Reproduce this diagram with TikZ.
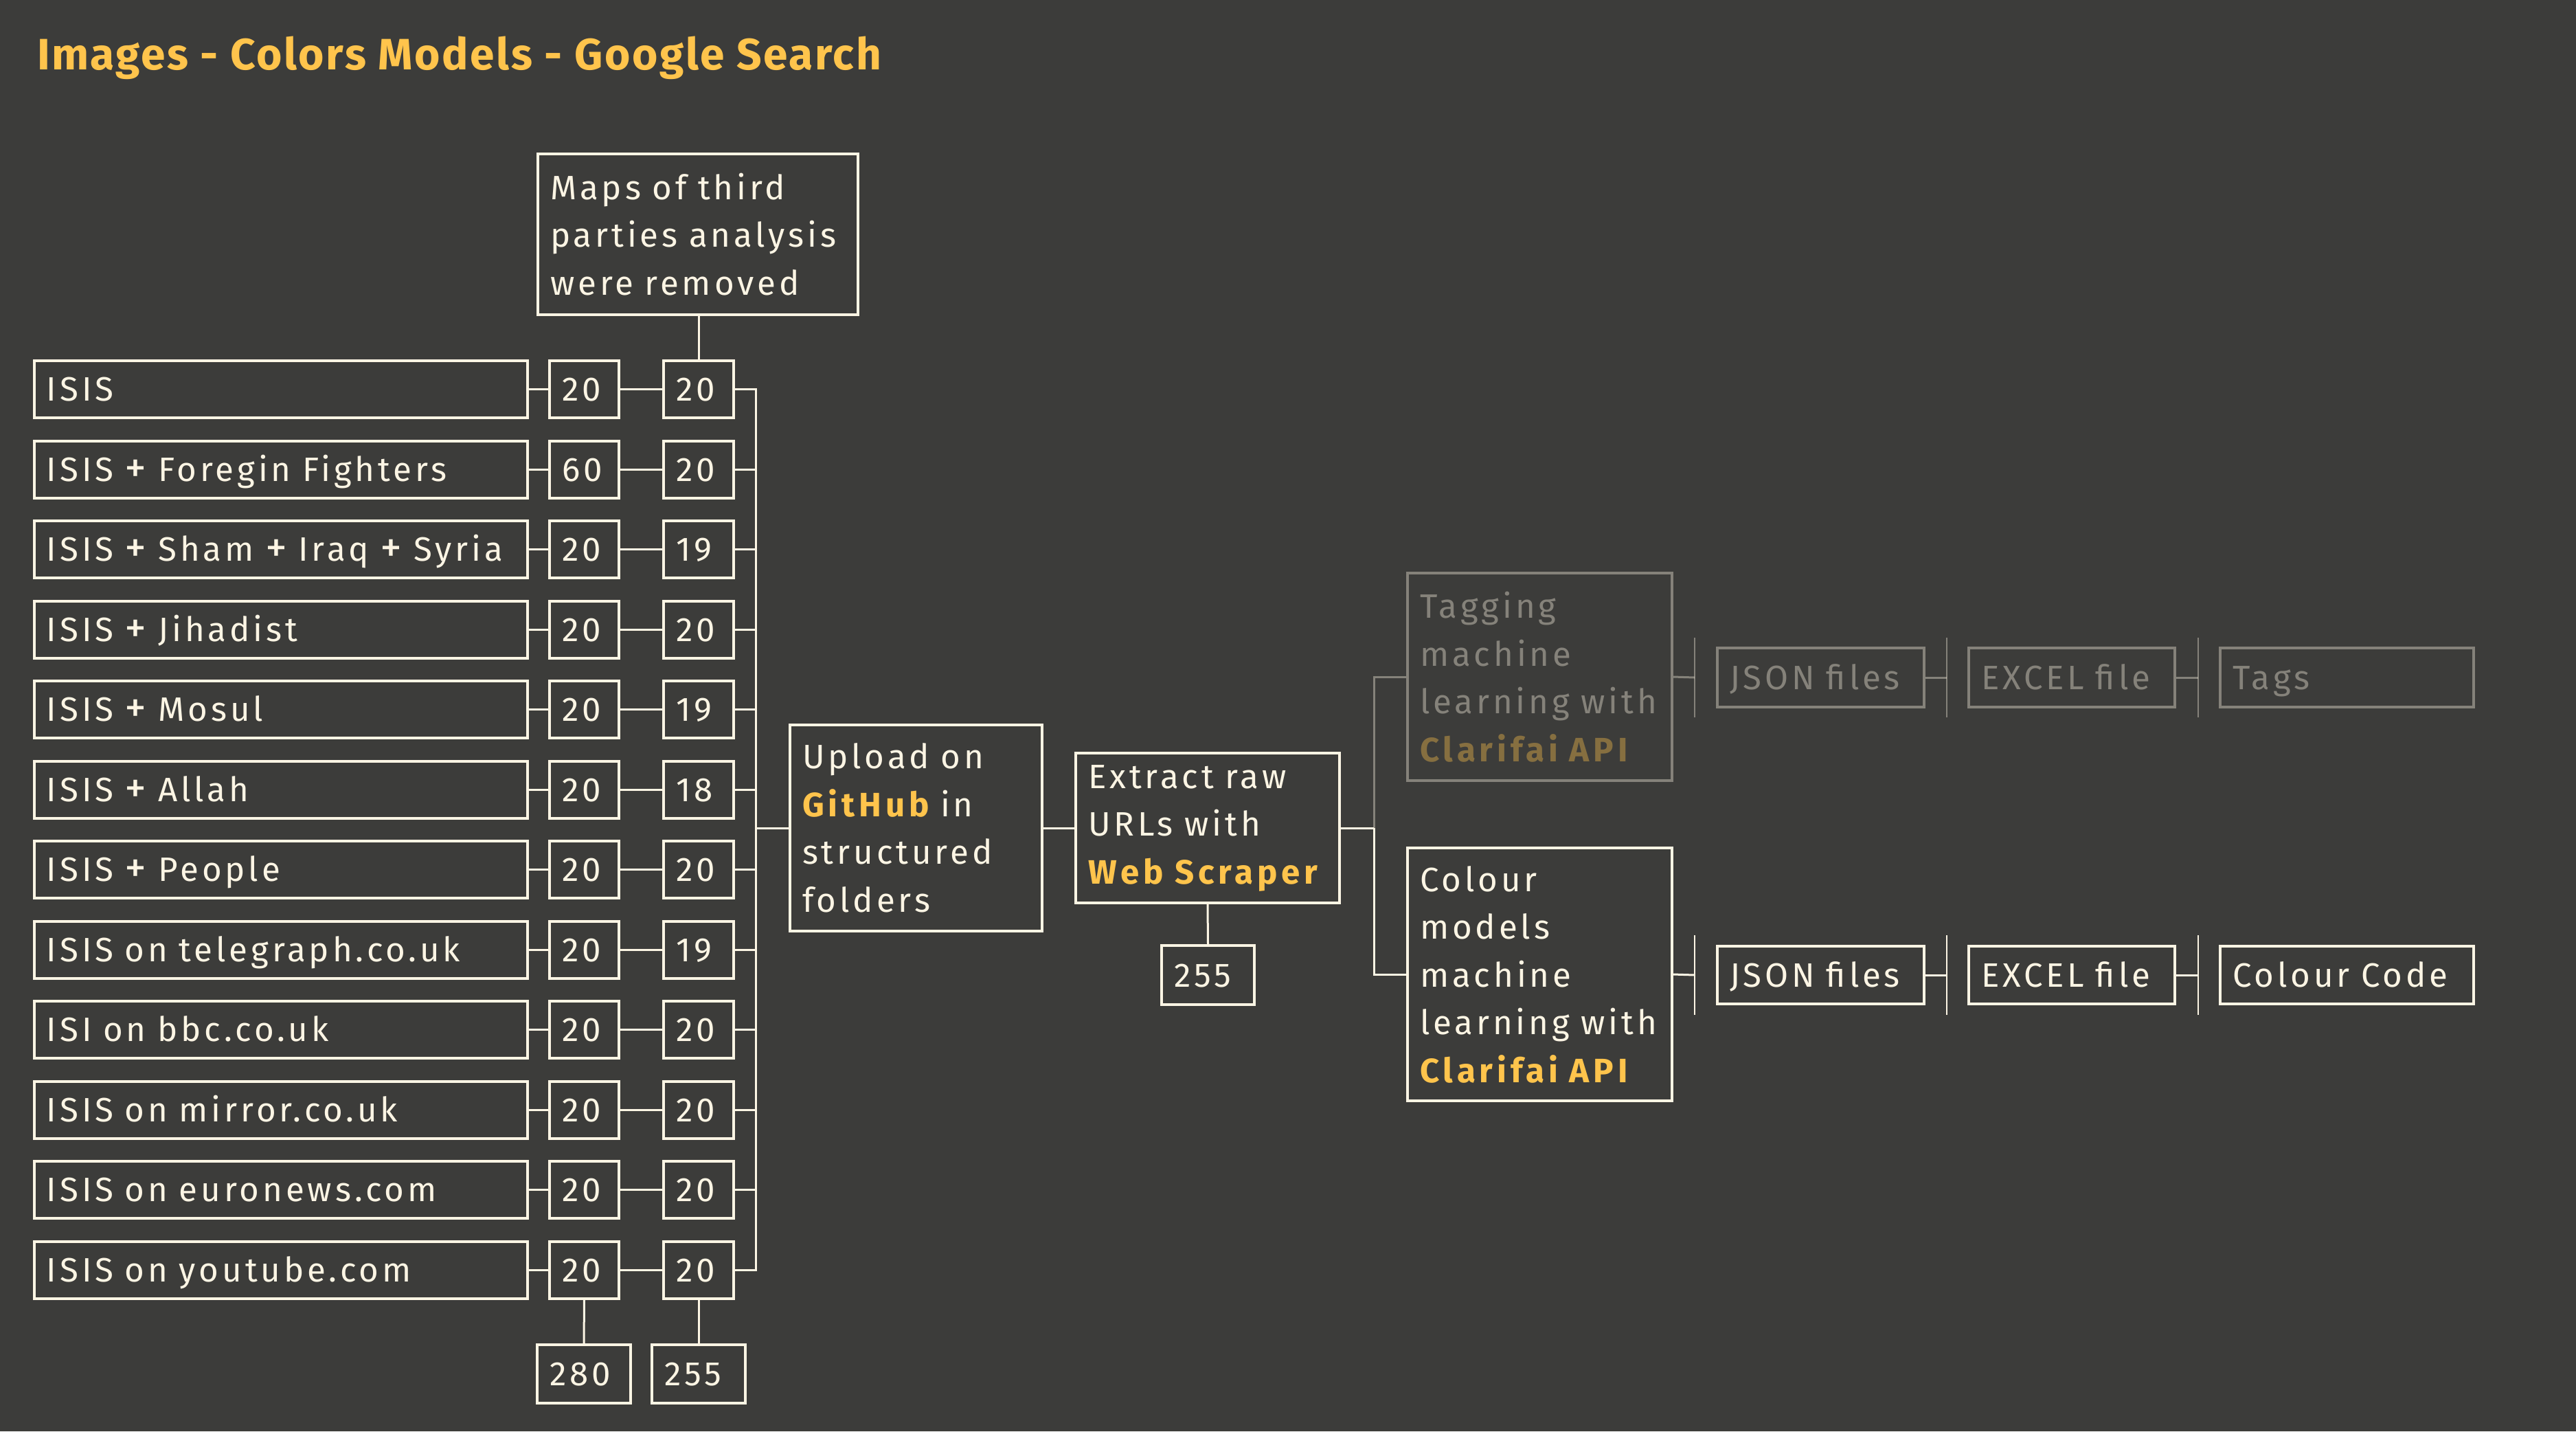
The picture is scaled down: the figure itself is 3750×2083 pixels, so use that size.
\documentclass[tikz,border=0pt]{standalone}
\usepackage{fontspec}
\usepackage{graphicx}
\setmainfont{Fira Sans}[LetterSpace=10,BoldFeatures={LetterSpace=12}]
\newfontfamily\titlefont{Fira Sans}[LetterSpace=4]
\definecolor{bgc}{HTML}{3C3C3A}
\definecolor{cream}{HTML}{FCF5E4}
\definecolor{gold}{HTML}{FFC44C}
\newcommand{\hlgold}[1]{\textbf{\textcolor{gold}{#1}}}
\newcommand{\bigplus}{\raisebox{-0.4pt}{\scalebox{1.3}{+}}}
\newcommand{\bnode}[7][]{%
  \pgfmathsetmacro{\myBW}{((#5)-(#3))*0.2}%
  \pgfmathsetmacro{\myBH}{((#6)-(#4))*0.2}%
  \pgfmathsetmacro{\myTW}{((#5)-(#3))*0.2-7.2}%
  \pgfmathsetmacro{\myCX}{((#3)+(#5))/2}%
  \pgfmathsetmacro{\myCY}{((#4)+(#6))/2}%
  \node[box,minimum width=\myBW pt,minimum height=\myBH pt,text width=\myTW pt,#1] (#2) at (\myCX,\myCY) {#7};}
\begin{document}
\begin{tikzpicture}[x=0.2pt,y=-0.2pt,
  box/.style={draw=cream,line width=0.8pt,text=cream,inner xsep=3.6pt,inner ysep=0pt,align=left,font=\fontsize{9.85}{13.9}\selectfont},
  one/.style={text height=6.8pt,text depth=0pt},
  link/.style={draw=cream,line width=0.6pt},
  barl/.style={draw=cream,line width=0.5pt},
  faded/.style={opacity=0.38}]
\fill[bgc] (0,0) rectangle (3750,2083);
\useasboundingbox (0,0) rectangle (3750,2083);

\node[anchor=base west,text=gold,inner sep=0pt,font=\titlefont\bfseries\fontsize{12.8}{14}\selectfont] (title) at (53,101) {Images - Colors Models - Google Search};

\coordinate (busx) at (1100,0);

\foreach \lab/\na/\nb [count=\rk from 0] in {ISIS/20/20, ISIS \bigplus{} Foregin Fighters/60/20, ISIS \bigplus{} Sham \bigplus{} Iraq \bigplus{} Syria/20/19, ISIS \bigplus{} Jihadist/20/20, ISIS \bigplus{} Mosul/20/19, ISIS \bigplus{} Allah/20/18, ISIS \bigplus{} People/20/20, ISIS on telegraph.co.uk/20/19, ISI on bbc.co.uk/20/20, ISIS on mirror.co.uk/20/20, ISIS on euronews.com/20/20, ISIS on youtube.com/20/20}{
  \pgfmathsetmacro{\yA}{566.5+116.5*\rk-41.5}
  \pgfmathsetmacro{\yB}{566.5+116.5*\rk+41.5}
  \bnode[one]{lab-\rk}{50}{\yA}{768}{\yB}{\lab}
  \bnode[one]{c1-\rk}{800}{\yA}{901}{\yB}{\na}
  \bnode[one]{c2-\rk}{966}{\yA}{1068}{\yB}{\nb}
  \draw[link] (lab-\rk.east) -- (c1-\rk.west);
  \draw[link] (c1-\rk.east) -- (c2-\rk.west);
  \draw[link] (c2-\rk.east) -- (c2-\rk.east -| busx);
}
\draw[link] (c2-0.east) -- (c2-0.east -| busx) -- (c2-11.east -| busx) -- (c2-11.east);

\bnode{maps}{783}{224}{1249}{458}{Maps of third\\parties~analysis\\were removed}
\draw[link] (c2-0.north) -- (c2-0.north |- maps.south);

\bnode[one]{tot1}{782}{1957}{918}{2042}{280}
\bnode[one]{tot2}{949}{1957}{1085}{2042}{255}
\draw[link] (c1-11.south) -- (tot1.north);
\draw[link] (c2-11.south) -- (tot2.north);

\bnode{upload}{1150}{1055}{1517}{1355}{Upload on\\\hlgold{GitHub} in\\structured\\folders}
\draw[link] (upload.west) -- (upload.west -| busx);

\bnode{extract}{1566}{1096}{1950}{1314}{Extract raw\\URLs with\\\hlgold{Web~Scraper}}
\draw[link] (upload.east) -- (extract.west);
\bnode[one]{scr}{1691}{1376}{1826}{1462}{255}
\draw[link] (extract.south) -- (scr.north);

\coordinate (split) at (2000,1205);
\draw[link] (extract.east) -- (split);

\bnode[faded]{tag}{2049}{834}{2434}{1136}{Tagging\\machine\\learning~with\\\hlgold{Clarifai~API}}
\bnode{col}{2049}{1234}{2434}{1602}{Colour\\models\\machine\\learning~with\\\hlgold{Clarifai~API}}
\draw[link] (split) |- (col.west);
\draw[link,faded] (split) |- (tag.west);

% top chain (faded)
\bnode[one,faded]{json1}{2500}{943}{2801}{1029}{JSON files}
\bnode[one,faded]{xl1}{2866}{943}{3166}{1029}{EXCEL file}
\bnode[one,faded]{tags}{3232}{943}{3601}{1029}{Tags}
\coordinate (tb1) at (2467,986);
\coordinate (tb2) at (2834,986);
\coordinate (tb3) at (3200,986);
\draw[link,faded] (tag.east) -- (tb1);
\draw[link,faded] (json1.east) -- (tb2);
\draw[link,faded] (xl1.east) -- (tb3);
\foreach \b in {tb1,tb2,tb3}{\draw[barl,faded] ([yshift=11.6pt]\b) -- ([yshift=-11.6pt]\b);}

% bottom chain
\bnode[one]{json2}{2500}{1377}{2801}{1461}{JSON files}
\bnode[one]{xl2}{2866}{1377}{3166}{1461}{EXCEL file}
\bnode[one]{code}{3232}{1377}{3601}{1461}{Colour Code}
\coordinate (bb1) at (2467,1419);
\coordinate (bb2) at (2834,1419);
\coordinate (bb3) at (3200,1419);
\draw[link] (col.east) -- (bb1);
\draw[link] (json2.east) -- (bb2);
\draw[link] (xl2.east) -- (bb3);
\foreach \b in {bb1,bb2,bb3}{\draw[barl] ([yshift=11.6pt]\b) -- ([yshift=-11.6pt]\b);}
\end{tikzpicture}
\end{document}
